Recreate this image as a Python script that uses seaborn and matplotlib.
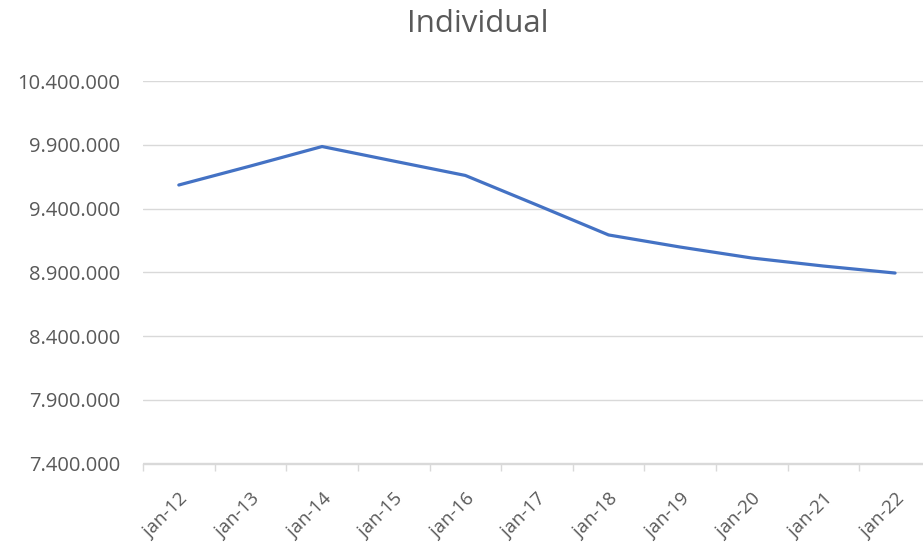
import matplotlib
matplotlib.use("Agg")
import matplotlib.pyplot as plt
from matplotlib.ticker import FuncFormatter, FixedLocator
import seaborn as sns
import pandas as pd
import numpy as np

# Monthly snapshot (January of each year)
months = ["jan-12", "jan-13", "jan-14", "jan-15", "jan-16", "jan-17",
          "jan-18", "jan-19", "jan-20", "jan-21", "jan-22"]
individual = [9586000, 9735000, 9888000, 9774000, 9661000, 9429000,
              9194000, 9099000, 9013000, 8950000, 8895000]
y_ticks = [7400000, 7900000, 8400000, 8900000, 9400000, 9900000, 10400000]

sns.set_theme(style="white")
plt.rcParams["font.family"] = ["Open Sans", "DejaVu Sans"]

df = pd.DataFrame({"month": months, "value": individual})
df["pos"] = np.arange(len(months))

fig = plt.figure(figsize=(9.23, 5.48), dpi=100)
ax = fig.add_axes([143 / 923, 1 - 463.5 / 548, 1 - 143 / 923, (463.5 - 81.3) / 548])

sns.lineplot(data=df, x="pos", y="value", ax=ax, color="#4472C4",
             linewidth=2.3, solid_capstyle="round", solid_joinstyle="round")

ax.set_xlim(-0.5, 10.39)
ax.set_ylim(y_ticks[0], y_ticks[-1])
ax.set_yticks(y_ticks)
ax.yaxis.set_major_formatter(FuncFormatter(lambda v, p: f"{int(v):,}".replace(",", ".")))
ax.set_xticks(df["pos"])
ax.set_xticklabels(months)
ax.xaxis.set_minor_locator(FixedLocator(np.arange(-0.5, 10.6, 1.0)))

ax.grid(axis="y", color="#d9d9d9", linewidth=1.0)
ax.set_axisbelow(True)
for side in ["top", "right", "left"]:
    ax.spines[side].set_visible(False)
ax.spines["bottom"].set_color("#d9d9d9")
ax.spines["bottom"].set_linewidth(1.0)

ax.tick_params(axis="y", left=False, length=0, pad=16.5, labelsize=14.5,
               labelcolor="#595959")
ax.tick_params(axis="x", which="major", bottom=False, length=0, pad=19,
               labelsize=13.5, labelcolor="#595959")
ax.tick_params(axis="x", which="minor", bottom=True, length=5,
               color="#d9d9d9", width=1.0)
for lbl in ax.get_xticklabels():
    lbl.set_rotation(45)
    lbl.set_ha("right")
    lbl.set_rotation_mode("anchor")

ax.set_xlabel("")
ax.set_ylabel("")
fig.text(478 / 923, 1 - 24 / 548, "Individual", ha="center", va="center",
         fontsize=22.5, color="#595959")

fig.savefig("out.png", dpi=100)
